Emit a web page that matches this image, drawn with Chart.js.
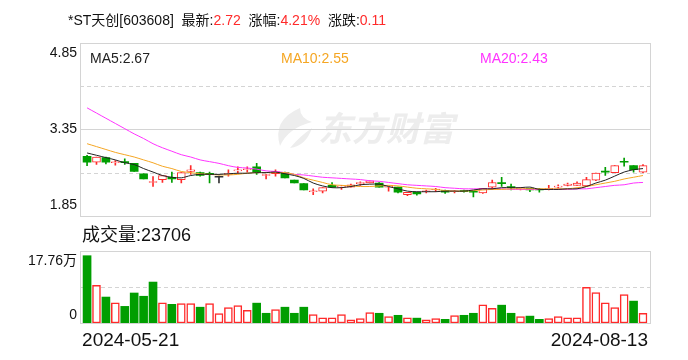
<!DOCTYPE html>
<html><head><meta charset="utf-8">
<script src="https://cdn.jsdelivr.net/npm/chart.js@4/dist/chart.umd.min.js"></script>
<style>
body{margin:0;background:#fff;width:688px;height:360px;overflow:hidden;position:relative;font-family:'Liberation Sans','Noto Sans CJK SC',sans-serif;color:#111;}
canvas{position:absolute;left:0;}
#c1{top:0;}
#c2{top:230px;}
.t{position:absolute;white-space:nowrap;line-height:1;}
.r{color:#ff2a2a;}
</style></head><body>
<canvas id="c1" width="688" height="230"></canvas>
<canvas id="c2" width="688" height="130"></canvas>
<div class="t" style="left:68px;top:13px;font-size:14px;">*ST天创[603608]&nbsp; 最新:<span class="r">2.72</span>&nbsp; 涨幅:<span class="r">4.21%</span>&nbsp; 涨跌:<span class="r">0.11</span></div>
<div class="t" style="left:90px;top:51px;font-size:14px;color:#222;">MA5:2.67</div>
<div class="t" style="left:281px;top:51px;font-size:14px;color:#f5a623;">MA10:2.55</div>
<div class="t" style="left:480px;top:51px;font-size:14px;color:#ff33ff;">MA20:2.43</div>
<div class="t" style="left:82px;top:226px;font-size:18px;color:#111;">成交量:23706</div>
<script>
// ---- data ----
const open  = [2.88,2.78,2.86,2.77,2.79,2.76,2.58,2.43,2.48,2.52,2.48,2.62,2.60,2.58,2.52,2.57,2.63,2.65,2.70,2.55,
               2.58,2.60,2.47,2.41,2.27,2.28,2.38,2.35,2.35,2.41,2.42,2.42,2.35,2.35,2.22,2.26,2.27,2.30,2.29,2.27,
               2.29,2.27,2.25,2.35,2.42,2.35,2.32,2.33,2.31,2.31,2.35,2.38,2.38,2.37,2.47,2.62,2.60,2.79,2.72,2.61];
const high  = [2.90,2.87,2.87,2.81,2.84,2.76,2.58,2.53,2.55,2.61,2.60,2.72,2.61,2.61,2.54,2.65,2.70,2.70,2.76,2.57,
               2.65,2.61,2.47,2.41,2.32,2.34,2.43,2.38,2.40,2.44,2.46,2.43,2.37,2.35,2.26,2.26,2.30,2.33,2.30,2.29,
               2.30,2.28,2.33,2.47,2.52,2.40,2.34,2.33,2.33,2.38,2.39,2.42,2.44,2.52,2.59,2.69,2.72,2.85,2.72,2.74];
const low   = [2.72,2.74,2.75,2.73,2.74,2.62,2.49,2.36,2.43,2.43,2.42,2.57,2.54,2.42,2.42,2.54,2.59,2.61,2.57,2.49,
               2.54,2.51,2.42,2.30,2.22,2.25,2.35,2.31,2.35,2.38,2.42,2.35,2.28,2.25,2.20,2.21,2.25,2.27,2.24,2.25,
               2.26,2.18,2.24,2.31,2.36,2.30,2.30,2.27,2.26,2.30,2.33,2.37,2.38,2.36,2.46,2.55,2.60,2.71,2.61,2.60];
const close = [2.78,2.87,2.78,2.78,2.77,2.62,2.49,2.44,2.55,2.49,2.60,2.65,2.55,2.57,2.52,2.58,2.64,2.66,2.61,2.56,
               2.62,2.51,2.42,2.30,2.28,2.34,2.35,2.36,2.39,2.42,2.46,2.35,2.36,2.26,2.26,2.23,2.28,2.31,2.26,2.28,
               2.27,2.26,2.33,2.43,2.41,2.34,2.33,2.30,2.30,2.32,2.36,2.40,2.42,2.48,2.59,2.61,2.72,2.78,2.65,2.72];
const ma5   = [2.94,2.90,2.86,2.82,2.77,2.74,2.67,2.61,2.55,2.52,2.51,2.55,2.57,2.57,2.57,2.58,2.59,2.59,2.60,2.60,
               2.61,2.58,2.55,2.50,2.42,2.37,2.34,2.34,2.36,2.39,2.40,2.40,2.36,2.32,2.28,2.27,2.27,2.27,2.28,2.28,
               2.28,2.30,2.32,2.32,2.34,2.34,2.34,2.35,2.31,2.31,2.31,2.32,2.32,2.36,2.42,2.47,2.54,2.61,2.65,2.67];
const ma10  = [3.10,3.05,3.00,2.95,2.91,2.87,2.82,2.77,2.71,2.67,2.62,2.60,2.58,2.57,2.56,2.56,2.57,2.59,2.60,2.60,
               2.60,2.60,2.57,2.51,2.47,2.43,2.39,2.38,2.37,2.36,2.36,2.37,2.38,2.37,2.35,2.33,2.32,2.31,2.29,2.28,
               2.28,2.29,2.30,2.31,2.31,2.32,2.32,2.32,2.32,2.32,2.32,2.32,2.34,2.36,2.39,2.42,2.45,2.49,2.52,2.55];
const ma20  = [3.72,3.63,3.54,3.45,3.36,3.27,3.19,3.10,3.03,2.97,2.91,2.87,2.82,2.79,2.76,2.72,2.69,2.68,2.66,2.63,
               2.62,2.60,2.57,2.56,2.54,2.52,2.51,2.50,2.49,2.48,2.46,2.45,2.43,2.41,2.39,2.38,2.37,2.36,2.34,2.33,
               2.32,2.32,2.32,2.32,2.32,2.31,2.31,2.31,2.31,2.31,2.31,2.31,2.32,2.32,2.34,2.36,2.38,2.39,2.42,2.43];
const volume = [166000,93000,64000,50000,41000,74000,66000,101000,50000,46000,48000,48000,39000,48000,23000,38000,43000,31000,49000,24000,
                33000,39000,24000,39000,21000,13000,13000,21000,8000,11000,26000,24000,16000,19000,13000,12000,8000,11000,9000,18000,
                19000,24000,45000,36000,44000,24000,16000,17000,9000,11000,16000,13000,13000,88000,75000,50000,38000,70000,54000,23706];
const volUp  = [0,1,0,1,0,0,0,0,1,0,1,1,0,1,1,1,1,1,0,0,
                1,0,0,0,1,1,1,1,1,1,1,0,1,0,1,0,1,1,0,1,
                0,0,1,1,0,0,1,0,0,1,1,1,1,1,1,1,1,1,0,1];
const priceTicks = [4.85, 3.35, 1.85];
const volMax = 177600;
const volTickLabels = ['17.76万', '0'];
const dateLabels = ['2024-05-21', '2024-08-13'];

const RED = '#ff2a2a', GREEN = '#009e00', GRID = '#d4d4d4';
const N = close.length;
const idx = close.map((_, i) => i);
const isUp = i => close[i] > open[i];
const isFlat = i => close[i] === open[i];
const candleColor = i => isFlat(i) ? '#333' : (isUp(i) ? RED : GREEN);
const FONT = "'Liberation Sans','Noto Sans CJK SC',sans-serif";

const pricePlugin = {
  id: 'priceDeco',
  beforeDatasetsDraw(chart) {
    const {ctx, chartArea: a, scales: {y}} = chart;
    ctx.save();
    // watermark logo + text
    ctx.fillStyle = '#ededed';
    ctx.beginPath();
    ctx.moveTo(300, 108);
    ctx.quadraticCurveTo(272, 120, 280, 146);
    ctx.quadraticCurveTo(288, 128, 312, 122);
    ctx.quadraticCurveTo(300, 118, 300, 108);
    ctx.closePath(); ctx.fill();
    ctx.beginPath();
    ctx.moveTo(312, 128);
    ctx.quadraticCurveTo(300, 136, 290, 148);
    ctx.quadraticCurveTo(306, 146, 312, 128);
    ctx.closePath(); ctx.fill();
    ctx.font = "italic bold 34px 'Noto Sans CJK SC'";
    ctx.textAlign = 'left'; ctx.textBaseline = 'middle';
    ctx.fillText('东方财富', 318, 128);
    // grid
    ctx.strokeStyle = GRID; ctx.lineWidth = 1;
    const q = [4.10, 3.35, 2.60];
    q.forEach(v => {
      const py = Math.round(y.getPixelForValue(v)) + 0.5;
      ctx.setLineDash(v === 3.35 ? [] : [4, 3]);
      ctx.beginPath(); ctx.moveTo(a.left, py); ctx.lineTo(a.right, py); ctx.stroke();
    });
    ctx.setLineDash([]);
    ctx.strokeRect(a.left + 0.5, Math.round(a.top) + 0.5, a.right - a.left - 1, Math.round(a.bottom - a.top) - 1);
    ctx.restore();
  },
  afterDraw(chart) {
    const {ctx, chartArea: a, scales: {y}} = chart;
    ctx.save();
    ctx.fillStyle = '#111';
    ctx.font = '14px ' + FONT;
    ctx.textAlign = 'right'; ctx.textBaseline = 'middle';
    priceTicks.forEach((v, k) => {
      let py = y.getPixelForValue(v);
      if (k === 0) py += 11; else if (k === priceTicks.length - 1) py -= 11;
      ctx.fillText(v.toFixed(2), 77, py);
    });
    ctx.restore();
  }
};

new Chart(document.getElementById('c1'), {
  type: 'bar',
  data: {
    datasets: [
      {type: 'line', data: idx.map(i => ({x: i, y: ma5[i]})), borderColor: '#222', borderWidth: 1, pointRadius: 0, tension: 0.3, order: 0},
      {type: 'line', data: idx.map(i => ({x: i, y: ma10[i]})), borderColor: '#f5a623', borderWidth: 1, pointRadius: 0, tension: 0.3, order: 0},
      {type: 'line', data: idx.map(i => ({x: i, y: ma20[i]})), borderColor: '#ff33ff', borderWidth: 1, pointRadius: 0, tension: 0.3, order: 0},
      {type: 'bar', data: idx.map(i => ({x: i, y: [open[i], close[i]]})),
        backgroundColor: idx.map(i => isUp(i) ? '#ffffff' : candleColor(i)),
        borderColor: idx.map(i => candleColor(i)),
        borderWidth: idx.map(i => isUp(i) ? 1 : 0),
        borderSkipped: false, barThickness: 8, minBarLength: 1, grouped: false, order: 1},
      {type: 'bar', data: idx.map(i => ({x: i, y: [low[i], high[i]]})),
        backgroundColor: idx.map(i => candleColor(i)),
        barThickness: 1, grouped: false, order: 2}
    ]
  },
  options: {
    responsive: false, animation: false, events: [],
    layout: {padding: {left: 80, right: 37, top: 42.5, bottom: 14}},
    scales: {
      x: {type: 'linear', offset: false, min: -0.75, max: N - 0.15, display: false},
      y: {min: 1.85, max: 4.85, display: false}
    },
    plugins: {legend: {display: false}, tooltip: {enabled: false}}
  },
  plugins: [pricePlugin]
});

const volPlugin = {
  id: 'volDeco',
  beforeDatasetsDraw(chart) {
    const {ctx, chartArea: a, scales: {y}} = chart;
    ctx.save();
    ctx.strokeStyle = GRID; ctx.lineWidth = 1;
    const py = Math.round(y.getPixelForValue(volMax / 2)) + 0.5;
    ctx.setLineDash([4, 3]);
    ctx.beginPath(); ctx.moveTo(a.left, py); ctx.lineTo(a.right, py); ctx.stroke();
    ctx.setLineDash([]);
    ctx.strokeRect(a.left + 0.5, Math.round(a.top) + 0.5, a.right - a.left - 1, Math.round(a.bottom - a.top));
    ctx.restore();
  },
  afterDraw(chart) {
    const {ctx, chartArea: a, scales: {x, y}} = chart;
    ctx.save();
    ctx.fillStyle = '#111';
    ctx.font = '14px ' + FONT;
    ctx.textAlign = 'right'; ctx.textBaseline = 'middle';
    ctx.fillText(volTickLabels[0], 77, y.getPixelForValue(volMax) + 10);
    ctx.fillText(volTickLabels[1], 77, y.getPixelForValue(0) - 8);
    ctx.font = '19px ' + FONT;
    ctx.textBaseline = 'middle';
    ctx.textAlign = 'left';
    ctx.fillText(dateLabels[0], x.getPixelForValue(0) - 5, 111);
    ctx.textAlign = 'right';
    ctx.fillText(dateLabels[1], x.getPixelForValue(N - 1) + 5, 111);
    ctx.restore();
  }
};

new Chart(document.getElementById('c2'), {
  type: 'bar',
  data: {
    datasets: [
      {data: idx.map(i => ({x: i, y: volume[i]})),
        backgroundColor: idx.map(i => volUp[i] ? '#ffffff' : GREEN),
        borderColor: idx.map(i => volUp[i] ? RED : GREEN),
        borderWidth: idx.map(i => volUp[i] ? 1.5 : 0),
        borderSkipped: false, barThickness: 8}
    ]
  },
  options: {
    responsive: false, animation: false, events: [],
    layout: {padding: {left: 80, right: 37, top: 21, bottom: 37}},
    scales: {
      x: {type: 'linear', offset: false, min: -0.75, max: N - 0.15, display: false},
      y: {min: 0, max: volMax, display: false}
    },
    plugins: {legend: {display: false}, tooltip: {enabled: false}}
  },
  plugins: [volPlugin]
});
</script>
</body></html>
